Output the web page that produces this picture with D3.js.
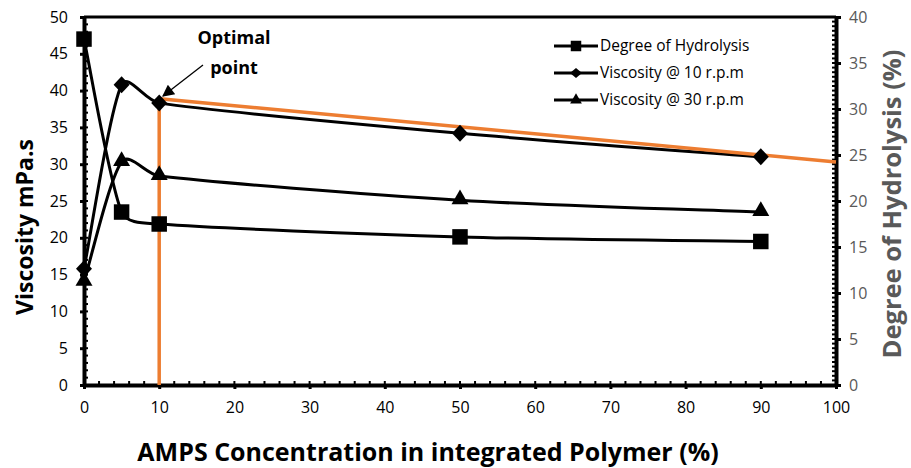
<!DOCTYPE html>
<html>
<head>
<meta charset="utf-8">
<script src="https://cdn.jsdelivr.net/npm/d3@7"></script>
<style>
  html, body { margin: 0; padding: 0; background: #fff; }
  svg { display: block; }
  text { font-family: "Open Sans", "Noto Sans", sans-serif; }
</style>
</head>
<body>
<svg id="chart" width="911" height="468"></svg>
<script>
// AMPS concentration (%) in the integrated polymer
const concentration = [0, 5, 10, 50, 90];
// Degree of hydrolysis (%), right axis
const hydrolysis = [37.6, 18.8, 17.5, 16.1, 15.6];
// Viscosity (mPa.s), left axis
const visc10 = [15.8, 40.8, 38.3, 34.2, 31.0];
const visc30 = [14.0, 30.3, 28.4, 25.1, 23.5];
// Optimal-point guide (concentration, viscosity)
const guideX = [10, 10, 100];
const guideY = [0, 38.9, 30.3];

const xTicks = [0, 10, 20, 30, 40, 50, 60, 70, 80, 90, 100];
const leftTicks = [0, 5, 10, 15, 20, 25, 30, 35, 40, 45, 50];
const rightTicks = [0, 5, 10, 15, 20, 25, 30, 35, 40];
const seriesNames = ["Degree of Hydrolysis", "Viscosity @ 10 r.p.m", "Viscosity @ 30 r.p.m"];

const svg = d3.select("#chart");
const L = 84, R = 836, T = 17, B = 385;

const x = d3.scaleLinear().domain([0, 100]).range([L, R]);
const yL = d3.scaleLinear().domain([0, 50]).range([B, T]);
const yR = d3.scaleLinear().domain([0, 40]).range([B, T]);

// Smoothed line: cubic Bezier through every point, tangents (next - prev) / 6,
// each handle limited to a third of its segment so short segments don't loop.
function smoothCurve(context) {
  let pts = [];
  return {
    areaStart() {}, areaEnd() {},
    lineStart() { pts = []; },
    point(px, py) { pts.push([+px, +py]); },
    lineEnd() {
      const n = pts.length;
      if (!n) return;
      context.moveTo(pts[0][0], pts[0][1]);
      for (let i = 0; i < n - 1; i++) {
        const p0 = pts[Math.max(i - 1, 0)], p1 = pts[i], p2 = pts[i + 1], p3 = pts[Math.min(i + 2, n - 1)];
        const lim = Math.hypot(p2[0] - p1[0], p2[1] - p1[1]) / 3;
        const cap = (vx, vy) => {
          const len = Math.hypot(vx, vy);
          return len > lim && len > 0 ? [vx * lim / len, vy * lim / len] : [vx, vy];
        };
        const t1 = cap((p2[0] - p0[0]) / 6, (p2[1] - p0[1]) / 6);
        const t2 = cap((p3[0] - p1[0]) / 6, (p3[1] - p1[1]) / 6);
        context.bezierCurveTo(p1[0] + t1[0], p1[1] + t1[1], p2[0] - t2[0], p2[1] - t2[1], p2[0], p2[1]);
      }
    }
  };
}

// frame: thin top border
svg.append("line").attr("x1", L).attr("x2", R).attr("y1", T).attr("y2", T)
  .attr("stroke", "#000").attr("stroke-width", 3);

// minor ticks (inside the plot)
const gMinor = svg.append("g").attr("stroke", "#000").attr("stroke-width", 2);
d3.range(0, 101, 2).forEach(v => {
  gMinor.append("line").attr("x1", x(v)).attr("x2", x(v)).attr("y1", B).attr("y2", B - 4);
});
d3.range(0, 51, 1).forEach(v => {
  gMinor.append("line").attr("x1", L).attr("x2", L + 4).attr("y1", yL(v)).attr("y2", yL(v));
});
d3.range(0, 40.01, 0.5).forEach(v => {
  gMinor.append("line").attr("x1", R).attr("x2", R - 4).attr("y1", yR(v)).attr("y2", yR(v));
});

// axes
const axisB = svg.append("g").attr("transform", `translate(0,${B})`)
  .call(d3.axisBottom(x).tickValues(xTicks).tickSize(4).tickPadding(10).tickSizeOuter(0));
const axisLft = svg.append("g").attr("transform", `translate(${L},0)`)
  .call(d3.axisLeft(yL).tickValues(leftTicks).tickSize(4).tickPadding(12).tickSizeOuter(0));
const axisRt = svg.append("g").attr("transform", `translate(${R},0)`)
  .call(d3.axisRight(yR).tickValues(rightTicks).tickSize(5).tickPadding(8).tickSizeOuter(0));

[axisB, axisLft, axisRt].forEach(g => {
  g.select(".domain").attr("stroke", "#000").attr("stroke-width", 4);
  g.selectAll(".tick line").attr("stroke", "#000").attr("stroke-width", 3);
  g.selectAll(".tick text").attr("font-size", 16).attr("font-family", "Open Sans, sans-serif")
    .attr("fill", "#000");
});
axisRt.selectAll(".tick text").attr("fill", "#595959");
axisB.selectAll(".tick text").attr("dy", "0.9em");

// axis titles
svg.append("text").attr("x", 428).attr("y", 461).attr("text-anchor", "middle")
  .attr("font-size", 25).attr("font-weight", "bold").attr("fill", "#000")
  .text("AMPS Concentration in integrated Polymer (%)");
svg.append("text").attr("transform", "translate(33,227) rotate(-90)").attr("text-anchor", "middle")
  .attr("font-size", 23).attr("font-weight", "bold").attr("fill", "#000")
  .text("Viscosity mPa.s");
svg.append("text").attr("transform", "translate(901,204) rotate(-90)").attr("text-anchor", "middle")
  .attr("font-size", 25.5).attr("font-weight", "bold").attr("fill", "#595959")
  .text("Degree of Hydrolysis (%)");

// smoothed series lines
const lineL = d3.line().x((d, i) => x(concentration[i])).y(d => yL(d)).curve(smoothCurve);
const lineR = d3.line().x((d, i) => x(concentration[i])).y(d => yR(d)).curve(smoothCurve);

const gLines = svg.append("g").attr("fill", "none").attr("stroke", "#000").attr("stroke-width", 3);
gLines.append("path").attr("d", lineR(hydrolysis));
gLines.append("path").attr("d", lineL(visc10));
gLines.append("path").attr("d", lineL(visc30));

// optimal point guide
const guide = d3.line().x(d => x(d[0])).y(d => yL(d[1]));
svg.append("path").attr("d", guide(guideX.map((v, i) => [v, guideY[i]])))
  .attr("fill", "none").attr("stroke", "#ED7D31").attr("stroke-width", 3.5);

// markers
const diamond = (w, h) => `M0,${-h}L${w},0L0,${h}L${-w},0Z`;
const sq = d3.symbol().type(d3.symbolSquare).size(240);
const tr = d3.symbol().type(d3.symbolTriangle).size(125);
const gM = svg.append("g").attr("fill", "#000");
hydrolysis.forEach((v, i) => gM.append("path").attr("d", sq())
  .attr("transform", `translate(${x(concentration[i])},${yR(v)})`));
visc10.forEach((v, i) => gM.append("path").attr("d", diamond(8, 8.5))
  .attr("transform", `translate(${x(concentration[i])},${yL(v)})`));
visc30.forEach((v, i) => gM.append("path").attr("d", tr())
  .attr("transform", `translate(${x(concentration[i])},${yL(v) - 1})`));

// annotation
svg.append("text").attr("x", 234).attr("y", 44).attr("text-anchor", "middle")
  .attr("font-size", 18).attr("font-weight", "bold").text("Optimal");
svg.append("text").attr("x", 234).attr("y", 74).attr("text-anchor", "middle")
  .attr("font-size", 18).attr("font-weight", "bold").text("point");
svg.append("defs").append("marker").attr("id", "arrow").attr("viewBox", "0 0 10 10")
  .attr("refX", 9).attr("refY", 5).attr("markerWidth", 14).attr("markerHeight", 12)
  .attr("markerUnits", "userSpaceOnUse").attr("orient", "auto")
  .append("path").attr("d", "M0,0 L10,5 L0,10 z").attr("fill", "#000");
svg.append("line").attr("x1", 203).attr("y1", 65).attr("x2", 163).attr("y2", 96)
  .attr("stroke", "#000").attr("stroke-width", 1.3).attr("marker-end", "url(#arrow)");

// legend
const legend = svg.append("g").attr("transform", "translate(554,46)");
const legendMarks = [sq.size(110)(), diamond(6, 5), tr.size(60)()];
seriesNames.forEach((name, i) => {
  const g = legend.append("g").attr("transform", `translate(0,${i * 27})`);
  g.append("line").attr("x1", 0).attr("x2", 44).attr("y1", 0).attr("y2", 0)
    .attr("stroke", "#000").attr("stroke-width", 3);
  g.append("path").attr("d", legendMarks[i]).attr("transform", "translate(22,0)");
  g.append("text").attr("x", 46).attr("y", 0).attr("dy", "0.35em")
    .attr("font-size", 15.5).attr("fill", "#000").text(name);
});
</script>
</body>
</html>
